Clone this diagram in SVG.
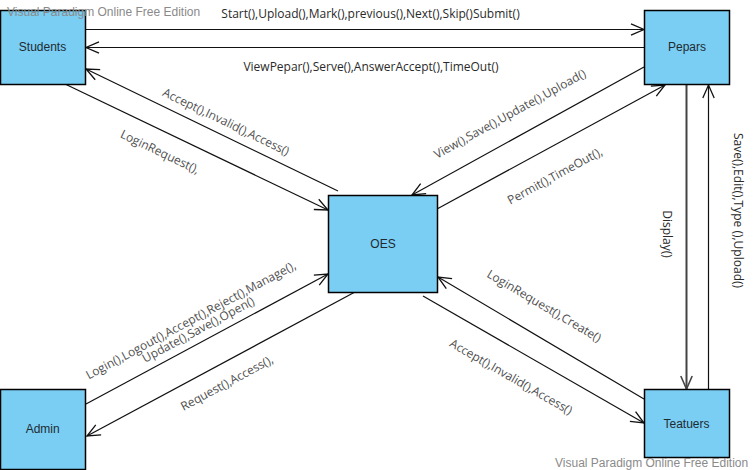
<svg xmlns="http://www.w3.org/2000/svg" width="754" height="470" viewBox="0 0 754 470">
<style>
.box{fill:#7ACEF4;stroke:#000;stroke-width:1.5}
.bt{font-family:"Liberation Sans",Arial,sans-serif;font-size:12px;fill:#1e2a30;text-anchor:middle}
.ln{fill:none;stroke:#111;stroke-width:1.2}
.ln2{fill:none;stroke:#444;stroke-width:2}
.lb{font-family:"Open Sans","Liberation Sans",sans-serif;font-size:12px;fill:#2a2a2a;text-anchor:middle}
.lbd{font-family:"Open Sans","Liberation Sans",sans-serif;font-size:12px;fill:#505050;text-anchor:middle}
.wm{font-family:"Liberation Sans",Arial,sans-serif;font-size:12px;fill:#8a8a8a}
</style>
<defs>
<marker id="arr" viewBox="-1 -1 16 14" markerWidth="16" markerHeight="14" refX="13" refY="6" orient="auto" markerUnits="userSpaceOnUse">
<path d="M0,0.3 L13,6 L0,11.7" fill="none" stroke="#111" stroke-width="1.3"/>
</marker>
<marker id="arrg" viewBox="-1 -1 16 14" markerWidth="16" markerHeight="14" refX="13" refY="6" orient="auto" markerUnits="userSpaceOnUse">
<path d="M0,0.3 L13,6 L0,11.7" fill="none" stroke="#444" stroke-width="1.6"/>
</marker>
</defs>
<g id="connectors">
<line class="ln" x1="86" y1="29.5" x2="644" y2="29.5" marker-end="url(#arr)"/>
<line class="ln" x1="644" y1="47.5" x2="86" y2="47.5" marker-end="url(#arr)"/>
<line class="ln" x1="338" y1="191" x2="86" y2="69" marker-end="url(#arr)"/>
<line class="ln" x1="65" y1="84" x2="328" y2="210" marker-end="url(#arr)"/>
<line class="ln" x1="644" y1="67" x2="412" y2="195" marker-end="url(#arr)"/>
<line class="ln" x1="437" y1="209" x2="665" y2="85" marker-end="url(#arr)"/>
<line class="ln2" x1="686.5" y1="85" x2="686.5" y2="389" marker-end="url(#arrg)"/>
<line class="ln" x1="708.5" y1="389" x2="708.5" y2="85" marker-end="url(#arr)"/>
<line class="ln" x1="86" y1="404" x2="328" y2="274" marker-end="url(#arr)"/>
<line class="ln" x1="355" y1="292" x2="87" y2="436" marker-end="url(#arr)"/>
<line class="ln" x1="644" y1="399" x2="438" y2="277" marker-end="url(#arr)"/>
<line class="ln" x1="423" y1="296" x2="644" y2="423" marker-end="url(#arr)"/>
<text class="lb" x="370.5" y="18">Start(),Upload(),Mark(),previous(),Next(),Skip()Submit()</text>
<text class="lb" x="371" y="71">ViewPepar(),Serve(),AnswerAccept(),TimeOut()</text>
<text class="lbd" transform="translate(226,122) rotate(25.8)" y="4">Accept(),Invalid(),Access()</text>
<text class="lbd" transform="translate(160,152) rotate(25.6)" y="4">LoginRequest(),</text>
<text class="lbd" transform="translate(510,114) rotate(-28.9)" y="4">View(),Save(),Update(),Upload()</text>
<text class="lbd" transform="translate(555,176) rotate(-28.5)" y="4">Permit(),TimeOut(),</text>
<text class="lb" transform="translate(666.7,234) rotate(90)" y="4">Display()</text>
<text class="lb" transform="translate(738.3,210.5) rotate(90)" y="4">Save(),Edit(),Type (),Upload()</text>
<text class="lbd" transform="translate(193.7,325.5) rotate(-28.2)"><tspan x="0" y="-2">Login(),Logout(),Accept(),Reject(),Manage(),</tspan><tspan x="2" y="10">Update(),Save(),Open()</tspan></text>
<text class="lbd" transform="translate(227,383) rotate(-28.3)" y="4">Request(),Access(),</text>
<text class="lbd" transform="translate(544,306) rotate(30.5)" y="4">LoginRequest(),Create()</text>
<text class="lbd" transform="translate(511,377) rotate(29.9)" y="4">Accept(),Invalid(),Access()</text>
</g>
<g id="Students"><rect class="box" x="0.5" y="10.5" width="85" height="74"/><text class="bt" x="42.5" y="51">Students</text></g>
<g id="Pepars"><rect class="box" x="644.5" y="10.5" width="85" height="74"/><text class="bt" x="687" y="51">Pepars</text></g>
<g id="OES"><rect class="box" x="328.5" y="195.5" width="109" height="97"/><text class="bt" x="383" y="248">OES</text></g>
<g id="Admin"><rect class="box" x="0.5" y="389.5" width="85" height="80"/><text class="bt" x="42.7" y="433">Admin</text></g>
<g id="Teatuers"><rect class="box" x="644.5" y="389.5" width="85" height="68"/><text class="bt" x="686.5" y="427.5">Teatuers</text></g>
<text class="wm" x="7" y="16">Visual Paradigm Online Free Edition</text>
<text class="wm" x="555" y="466.5">Visual Paradigm Online Free Edition</text>
</svg>
